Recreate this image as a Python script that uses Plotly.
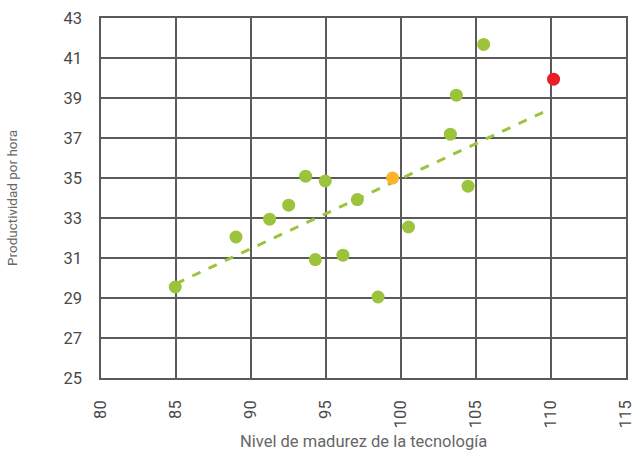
import plotly.graph_objects as go

# Data
x_green = [84.95, 89.0, 91.24, 92.51, 93.64, 94.95, 94.29, 96.13, 97.09, 98.47,
           100.5, 103.29, 103.69, 104.47, 105.51]
y_green = [29.55, 32.05, 32.94, 33.64, 35.09, 34.85, 30.92, 31.14, 33.92, 29.05,
           32.55, 37.19, 39.14, 34.59, 41.68]
x_orange = [99.44]
y_orange = [35.0]
x_red = [110.17]
y_red = [39.94]
trend_x = [85.0, 110.0]
trend_y = [29.72, 38.47]

x_ticks = [80, 85, 90, 95, 100, 105, 110, 115]
y_ticks = [25, 27, 29, 31, 33, 35, 37, 39, 41, 43]

GREEN = "#9BC33B"
fig = go.Figure()
fig.add_trace(go.Scatter(x=trend_x, y=trend_y, mode="lines",
                         line=dict(color=GREEN, width=3, dash="dash"),
                         showlegend=False, hoverinfo="skip"))
fig.add_trace(go.Scatter(x=x_green, y=y_green, mode="markers",
                         marker=dict(color=GREEN, size=13), showlegend=False))
fig.add_trace(go.Scatter(x=x_orange, y=y_orange, mode="markers",
                         marker=dict(color="#FBB52D", size=13), showlegend=False))
fig.add_trace(go.Scatter(x=x_red, y=y_red, mode="markers",
                         marker=dict(color="#EC1C24", size=13), showlegend=False))

axis_common = dict(showgrid=True, gridcolor="#5a5a5a", gridwidth=1.5,
                   showline=True, linecolor="#5a5a5a", linewidth=1.5, mirror=True,
                   zeroline=False, ticks="", automargin=False,
                   ticklabeloverflow="allow",
                   tickfont=dict(family="Roboto", size=16.5, color="#4a4a4a"))

fig.update_layout(
    width=634, height=455,
    margin=dict(l=101, r=8, t=18, b=77),
    paper_bgcolor="white", plot_bgcolor="white",
    font=dict(family="Roboto", color="#555555"),
    xaxis=dict(range=[80, 115], tickvals=x_ticks, ticktext=[str(v) for v in x_ticks],
               tickangle=-90, ticklabelstandoff=14, **axis_common),
    yaxis=dict(range=[25, 43], tickvals=y_ticks, ticktext=[str(v) for v in y_ticks],
               ticklabelstandoff=14, **axis_common),
    annotations=[
        dict(text="Nivel de madurez de la tecnología", xref="paper", yref="paper",
             x=0.5, y=-63 / 360, xanchor="center", yanchor="middle", showarrow=False,
             font=dict(family="Roboto", size=16.5, color="#666666")),
        dict(text="Productividad por hora", xref="paper", yref="paper",
             x=-89 / 525, y=0.5, xanchor="center", yanchor="middle", showarrow=False,
             textangle=-90, font=dict(family="Roboto", size=13.5, color="#666666")),
    ],
)

fig.write_html("out.html", config={"displayModeBar": False},
               post_script="document.body.style.margin='0';document.body.style.overflow='hidden';")
